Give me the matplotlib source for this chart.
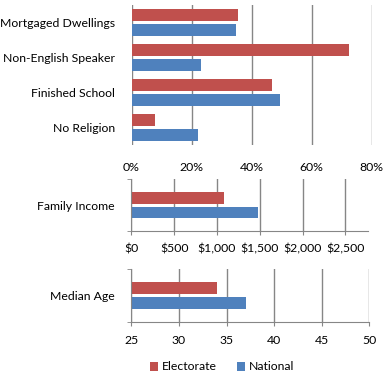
import matplotlib
matplotlib.use("Agg")
import matplotlib.pyplot as plt
import numpy as np

plt.rcParams["font.family"] = ["Lato", "DejaVu Sans"]

# top panel: share of population (%)
pct_cats = ["Mortgaged Dwellings", "Non-English Speaker", "Finished School", "No Religion"]
pct_electorate = [35.5, 72.5, 46.8, 7.8]
pct_national = [34.8, 23.2, 49.5, 22.2]
pct_ticks = [0, 20, 40, 60, 80]

# weekly family income ($)
income_electorate = 1083
income_national = 1480
income_ticks = [0, 500, 1000, 1500, 2000, 2500]

# median age (years)
age_electorate = 34.0
age_national = 37.0
age_ticks = [25, 30, 35, 40, 45, 50]

RED = "#C0504D"
BLUE = "#4F81BD"
GRID = "#868686"
FS = 8.8
W, H = 386, 376

fig = plt.figure(figsize=(W / 100, H / 100), dpi=100)


def px_axes(left, right, top, bottom):
    return fig.add_axes([left / W, 1 - bottom / H, (right - left) / W, (bottom - top) / H])


# --- percentages ---
ax = px_axes(131.5, 371.5, 5, 145)
y = np.arange(len(pct_cats))[::-1]
ax.barh(y + 0.21, pct_electorate, height=0.33, color=RED, label="Electorate")
ax.barh(y - 0.21, pct_national, height=0.33, color=BLUE, label="National")
ax.set_xlim(0, 80)
ax.set_ylim(-0.5, len(pct_cats) - 0.5)
ax.set_xticks(pct_ticks)
ax.set_xticklabels([f"{t}%" for t in pct_ticks])
ax.set_yticks(y)
ax.set_yticklabels(pct_cats)
ax.xaxis.grid(True, color=GRID, lw=1)
ax.set_axisbelow(True)
for s in ax.spines.values():
    s.set_visible(False)
ax.tick_params(axis="x", length=0, pad=12, labelsize=FS)
ax.tick_params(axis="y", length=0, pad=12, labelsize=FS)


def single(ax, label, e, n, ticks, fmt, xmax):
    ax.barh(0.142, e, height=0.22, color=RED)
    ax.barh(-0.142, n, height=0.22, color=BLUE)
    ax.set_xlim(ticks[0], xmax)
    ax.set_ylim(-0.5, 0.5)
    ax.set_xticks(ticks)
    ax.set_xticklabels([fmt(t) for t in ticks])
    ax.set_yticks([0])
    ax.set_yticklabels([label])
    ax.set_yticks([-0.5, 0.5], minor=True)
    ax.xaxis.grid(True, color=GRID, lw=1)
    ax.set_axisbelow(True)
    for k in ["top", "right"]:
        ax.spines[k].set_visible(False)
    for k in ["left", "bottom"]:
        ax.spines[k].set_color(GRID)
    ax.tick_params(axis="x", length=3, color=GRID, pad=6, labelsize=FS)
    ax.tick_params(axis="y", which="major", length=0, pad=12, labelsize=FS)
    ax.tick_params(axis="y", which="minor", length=3, color=GRID)


ax2 = px_axes(131.3, 367.7, 179.3, 231.3)
single(ax2, "Family Income", income_electorate, income_national, income_ticks,
       lambda t: f"${t:,}", 2760)

ax3 = px_axes(131.3, 369.3, 269.3, 322)
single(ax3, "Median Age", age_electorate, age_national, age_ticks,
       lambda t: f"{t}", 50)

handles, labels = ax.get_legend_handles_labels()
fig.legend(handles, labels, loc="center", bbox_to_anchor=(222 / W, 1 - 367 / H),
           ncol=2, frameon=False, fontsize=FS, handlelength=0.7, handleheight=0.7,
           handletextpad=0.3, columnspacing=1.6)

fig.savefig("out.png", dpi=100, facecolor="white")
